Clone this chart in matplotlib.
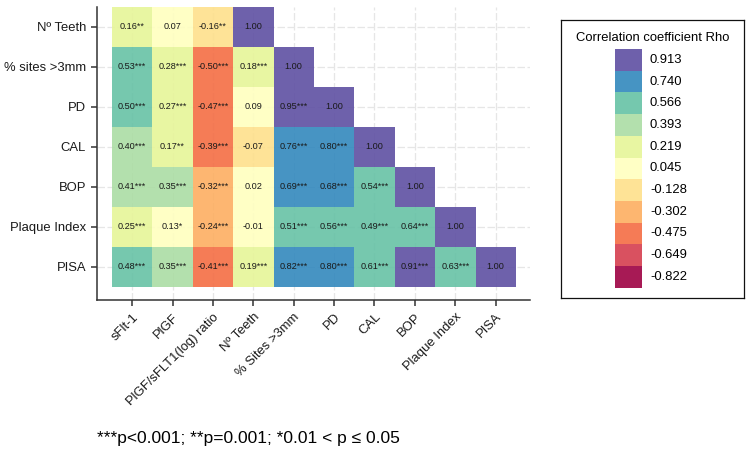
import numpy as np
import matplotlib
matplotlib.use("Agg")
import matplotlib.pyplot as plt
from matplotlib.colors import ListedColormap, BoundaryNorm
from matplotlib.patches import Rectangle

plt.rcParams['font.family'] = ['Liberation Sans', 'DejaVu Sans']

# data
row_labels = ["Nº Teeth", "% sites >3mm", "PD", "CAL", "BOP", "Plaque Index", "PISA"]
col_labels = ["sFlt-1", "PlGF", "PlGF/sFLT1(log) ratio", "Nº Teeth", "% Sites >3mm",
              "PD", "CAL", "BOP", "Plaque Index", "PISA"]

rho = [
    [0.16, 0.07, -0.16, 1.00],
    [0.53, 0.28, -0.50, 0.18, 1.00],
    [0.50, 0.27, -0.47, 0.09, 0.95, 1.00],
    [0.40, 0.17, -0.39, -0.07, 0.76, 0.80, 1.00],
    [0.41, 0.35, -0.32, 0.02, 0.69, 0.68, 0.54, 1.00],
    [0.25, 0.13, -0.24, -0.01, 0.51, 0.56, 0.49, 0.64, 1.00],
    [0.48, 0.35, -0.41, 0.19, 0.82, 0.80, 0.61, 0.91, 0.63, 1.00],
]
stars = [
    ["**", "", "**", ""],
    ["***", "***", "***", "***", ""],
    ["***", "***", "***", "", "***", ""],
    ["***", "**", "***", "", "***", "***", ""],
    ["***", "***", "***", "", "***", "***", "***", ""],
    ["***", "*", "***", "", "***", "***", "***", "***", ""],
    ["***", "***", "***", "***", "***", "***", "***", "***", "***", ""],
]

legend_values = [0.913, 0.740, 0.566, 0.393, 0.219, 0.045, -0.128, -0.302, -0.475, -0.649, -0.822]
legend_colors = ["#5E4FA2", "#3288BD", "#66C2A5", "#ABDDA4", "#E6F598", "#FFFFBF",
                 "#FEE08B", "#FDAE61", "#F46D43", "#D53E4F", "#9E0142"]

caption = "***p<0.001; **p=0.001; *0.01 < p \u2264 0.05"

# colour bins from the legend centres (ascending)
centres = np.array(legend_values[::-1])
edges = np.concatenate([[-1.0], (centres[:-1] + centres[1:]) / 2, [1.01]])
cmap = ListedColormap(legend_colors[::-1])
norm = BoundaryNorm(edges, cmap.N)

mat = np.full((len(row_labels), len(col_labels)), np.nan)
for i, r in enumerate(rho):
    mat[i, :len(r)] = r
mat = np.ma.masked_invalid(mat)

fig = plt.figure(figsize=(7.5, 4.53), dpi=100)
ax = fig.add_axes([97 / 750, 1 - 300 / 453, 433 / 750, 293 / 453])

ax.imshow(mat, cmap=cmap, norm=norm, aspect='auto', alpha=0.9, zorder=2,
          interpolation='nearest', extent=(-0.5, len(col_labels) - 0.5, len(row_labels) - 0.5, -0.5))

for i, r in enumerate(rho):
    for j, v in enumerate(r):
        ax.text(j, i, f"{v:.2f}{stars[i][j]}", ha='center', va='center', fontsize=6.6,
                color='#1a1a1a', zorder=3)

ax.set_xlim(-0.87, len(col_labels) - 0.15)
ax.set_ylim(len(row_labels) - 0.5 + 0.33, -0.5)
ax.set_xticks(range(len(col_labels)))
ax.set_yticks(range(len(row_labels)))
ax.set_xticklabels(col_labels, rotation=45, ha='right', rotation_mode='anchor', fontsize=9.4)
ax.set_yticklabels(row_labels, fontsize=9.4)
ax.tick_params(length=4.5, width=1.1, color='#333333', labelcolor='#1a1a1a', pad=3.5)
ax.grid(True, color='#E6E6E6', linestyle=(0, (6, 2)), linewidth=0.9)
ax.set_axisbelow(True)
for s in ['top', 'right']:
    ax.spines[s].set_visible(False)
for s in ['left', 'bottom']:
    ax.spines[s].set_linewidth(1.1)
    ax.spines[s].set_color('#333333')

# legend box
lax = fig.add_axes([561 / 750, 1 - 298 / 453, 183 / 750, 278 / 453])
lax.set_xlim(0, 183)
lax.set_ylim(278, 0)
lax.set_xticks([])
lax.set_yticks([])
for s in lax.spines.values():
    s.set_linewidth(0.9)
    s.set_color('#111111')
lax.text(91.5, 18, "Correlation coefficient Rho", ha='center', va='center', fontsize=9.4)
h = 21.7
for k, (val, col) in enumerate(zip(legend_values, legend_colors)):
    y0 = 29 + k * h
    lax.add_patch(Rectangle((54, y0), 27, h, facecolor=col, alpha=0.9, edgecolor='none'))
    lax.text(89, y0 + h / 2, f"{val:.3f}", ha='left', va='center', fontsize=9.4)

fig.text(97 / 750, 1 - 438 / 453, caption, ha='left', va='center', fontsize=12.5)

fig.savefig("out.png", dpi=100)
